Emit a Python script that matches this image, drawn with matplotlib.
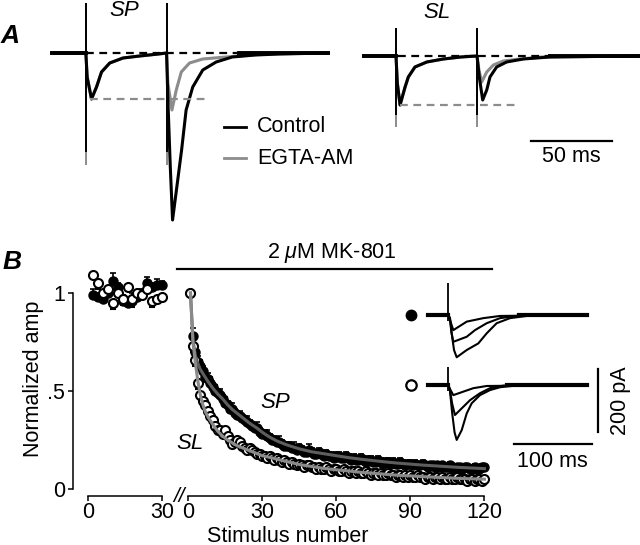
import numpy as np
import matplotlib.pyplot as plt

plt.rcParams['font.family'] = ['Liberation Sans', 'DejaVu Sans']
plt.rcParams['mathtext.fontset'] = 'custom'
plt.rcParams['mathtext.rm'] = 'Liberation Sans'
plt.rcParams['mathtext.it'] = 'Liberation Sans:italic'

FS = 15.5
GRAY = '#8c8c8c'

# ---------- panel A traces (t in ms from first stimulus, amplitude in arbitrary units) ----------
sp_ctrl_t = [-21, 0, 0.8, 3.5, 6.6, 9.7, 14.8, 23, 33.3, 45, 50, 50.8, 52.3, 53.7, 59.3, 62.1, 66.2, 72.4, 80.7, 90.7, 105, 120, 150]
sp_ctrl_a = [0, 0, -24, -46, -34, -19, -10, -5, -3, -1, 0, -47, -114, -167, -97, -57, -34, -17, -9, -4, -2, -1, 0]
sp_egta_t = [-21, 0, 0.8, 3.5, 6.6, 9.7, 14.8, 23, 33.3, 45, 50, 50.8, 53.3, 56, 59.1, 64.2, 72.4, 86.8, 110, 150]
sp_egta_a = [0, 0, -24, -46, -34, -19, -10, -5, -3, -1, 0, -30, -57, -37, -19, -10, -6, -4, -1, 0]

sl_ctrl_t = [-20, 0, 0.8, 2.5, 5.6, 7.6, 11.7, 19, 29.2, 40, 50, 51.4, 53.5, 56, 58, 62.1, 68.3, 78.6, 95, 150]
sl_ctrl_a = [0, 0, -27, -49, -31, -21, -11, -6, -3, -1, 0, -21, -44, -34, -21, -11, -6, -3, -1, 0]
sl_egta_t = [-20, 0, 0.8, 2.5, 5.6, 7.6, 11.7, 19, 29.2, 40, 50, 51.2, 52.9, 56, 60.1, 66.2, 76.5, 90, 150]
sl_egta_a = [0, 0, -27, -49, -31, -21, -11, -6, -3, -1, 0, -14, -26, -16, -9, -5, -3, -1, 0]

stim_times = [0, 50]

# ---------- panel B data ----------
pre_x = [2, 4, 6, 8, 10, 12, 14, 16, 18, 20, 22, 24, 26, 28, 30]
pre_sp = [0.99, 0.98, 0.97, 1.00, 1.06, 1.03, 0.96, 0.95, 0.96, 0.98, 1.00, 1.05, 1.03, 1.04, 1.04]
pre_sp_err = [0.03, 0.02, 0.03, 0.02, 0.04, 0.02, 0.03, 0.02, 0.04, 0.02, 0.02, 0.03, 0.02, 0.03, 0.02]
pre_sl = [1.09, 1.05, 1.00, 1.02, 0.95, 1.00, 0.97, 1.03, 0.97, 1.00, 0.99, 1.02, 0.96, 0.97, 0.98]
pre_sl_err = [0.02, 0.03, 0.02, 0.02, 0.03, 0.02, 0.03, 0.02, 0.04, 0.02, 0.02, 0.02, 0.03, 0.02, 0.02]

post_x = list(range(1, 121))
sp_post = [1.00, 0.78, 0.70, 0.65, 0.63, 0.60, 0.57, 0.56, 0.54, 0.52,
           0.50, 0.49, 0.48, 0.46, 0.44, 0.43, 0.41, 0.41, 0.39, 0.38,
           0.37, 0.36, 0.35, 0.34, 0.33, 0.32, 0.31, 0.31, 0.29, 0.28,
           0.28, 0.27, 0.26, 0.25, 0.25, 0.24, 0.24, 0.23, 0.22, 0.22,
           0.22, 0.21, 0.21, 0.20, 0.21, 0.20, 0.19, 0.19, 0.20, 0.19,
           0.18, 0.18, 0.19, 0.18, 0.17, 0.18, 0.17, 0.17, 0.16, 0.17,
           0.17, 0.16, 0.16, 0.17, 0.16, 0.15, 0.16, 0.15, 0.15, 0.16,
           0.15, 0.14, 0.15, 0.15, 0.14, 0.14, 0.15, 0.14, 0.13, 0.14,
           0.14, 0.13, 0.14, 0.13, 0.13, 0.14, 0.13, 0.12, 0.13, 0.13,
           0.12, 0.13, 0.12, 0.12, 0.13, 0.12, 0.11, 0.12, 0.12, 0.11,
           0.12, 0.11, 0.12, 0.11, 0.11, 0.12, 0.11, 0.10, 0.11, 0.11,
           0.10, 0.11, 0.11, 0.10, 0.10, 0.11, 0.10, 0.10, 0.11, 0.11]
sp_post_err = [0.00, 0.04, 0.03, 0.03, 0.03, 0.03, 0.02, 0.03, 0.03, 0.02,
               0.03, 0.02, 0.03, 0.02, 0.03, 0.02, 0.02, 0.03, 0.02, 0.02,
               0.03, 0.02, 0.02, 0.03, 0.02, 0.02, 0.02, 0.03, 0.02, 0.02,
               0.02, 0.03, 0.02, 0.02, 0.02, 0.02, 0.03, 0.02, 0.02, 0.02,
               0.02, 0.02, 0.03, 0.02, 0.02, 0.02, 0.02, 0.02, 0.03, 0.02,
               0.02, 0.02, 0.02, 0.02, 0.02, 0.02, 0.02, 0.02, 0.02, 0.02,
               0.02, 0.02, 0.02, 0.02, 0.02, 0.02, 0.02, 0.02, 0.02, 0.02,
               0.02, 0.02, 0.02, 0.02, 0.02, 0.02, 0.02, 0.02, 0.02, 0.02,
               0.02, 0.02, 0.02, 0.02, 0.02, 0.02, 0.02, 0.02, 0.02, 0.02,
               0.02, 0.02, 0.02, 0.02, 0.02, 0.02, 0.02, 0.02, 0.02, 0.02,
               0.02, 0.02, 0.02, 0.02, 0.02, 0.02, 0.02, 0.02, 0.02, 0.02,
               0.02, 0.02, 0.02, 0.02, 0.02, 0.02, 0.02, 0.02, 0.02, 0.02]
sl_post = [1.00, 0.73, 0.66, 0.54, 0.48, 0.45, 0.43, 0.40, 0.37, 0.35,
           0.32, 0.30, 0.30, 0.28, 0.30, 0.27, 0.25, 0.23, 0.24, 0.25,
           0.24, 0.22, 0.21, 0.20, 0.21, 0.20, 0.19, 0.18, 0.18, 0.17,
           0.17, 0.16, 0.17, 0.16, 0.15, 0.16, 0.15, 0.14, 0.15, 0.14,
           0.13, 0.14, 0.13, 0.12, 0.13, 0.12, 0.11, 0.12, 0.12, 0.11,
           0.11, 0.10, 0.11, 0.10, 0.10, 0.11, 0.10, 0.09, 0.10, 0.10,
           0.09, 0.09, 0.10, 0.09, 0.08, 0.09, 0.09, 0.08, 0.09, 0.08,
           0.08, 0.09, 0.08, 0.07, 0.08, 0.08, 0.07, 0.08, 0.07, 0.07,
           0.08, 0.07, 0.07, 0.06, 0.07, 0.07, 0.06, 0.07, 0.06, 0.07,
           0.06, 0.06, 0.07, 0.06, 0.06, 0.05, 0.06, 0.06, 0.05, 0.06,
           0.06, 0.05, 0.06, 0.05, 0.05, 0.06, 0.05, 0.05, 0.06, 0.05,
           0.05, 0.05, 0.04, 0.05, 0.05, 0.04, 0.05, 0.05, 0.04, 0.05]
sl_post_err = [0.00, 0.03, 0.03, 0.03, 0.02, 0.02, 0.02, 0.02, 0.02, 0.02,
               0.02, 0.02, 0.02, 0.02, 0.02, 0.02, 0.02, 0.02, 0.02, 0.02,
               0.02, 0.02, 0.02, 0.02, 0.02, 0.02, 0.02, 0.02, 0.02, 0.02,
               0.02, 0.02, 0.02, 0.02, 0.02, 0.02, 0.02, 0.02, 0.02, 0.02,
               0.01, 0.01, 0.01, 0.01, 0.01, 0.01, 0.01, 0.01, 0.01, 0.01,
               0.01, 0.01, 0.01, 0.01, 0.01, 0.01, 0.01, 0.01, 0.01, 0.01,
               0.01, 0.01, 0.01, 0.01, 0.01, 0.01, 0.01, 0.01, 0.01, 0.01,
               0.01, 0.01, 0.01, 0.01, 0.01, 0.01, 0.01, 0.01, 0.01, 0.01,
               0.01, 0.01, 0.01, 0.01, 0.01, 0.01, 0.01, 0.01, 0.01, 0.01,
               0.01, 0.01, 0.01, 0.01, 0.01, 0.01, 0.01, 0.01, 0.01, 0.01,
               0.01, 0.01, 0.01, 0.01, 0.01, 0.01, 0.01, 0.01, 0.01, 0.01,
               0.01, 0.01, 0.01, 0.01, 0.01, 0.01, 0.01, 0.01, 0.01, 0.01]

# fitted curves
fit_x = [1, 2, 3, 4, 5, 6, 7, 8, 10, 12, 14, 16, 18, 20, 22, 25, 28, 30, 33, 36, 40, 45, 50,
         55, 60, 65, 70, 75, 80, 85, 90, 95, 100, 105, 110, 115, 120]
sp_fit = [1.0, 0.76, 0.68, 0.64, 0.61, 0.59, 0.57, 0.55, 0.515, 0.485, 0.46, 0.43, 0.405, 0.385,
          0.365, 0.335, 0.31, 0.29, 0.265, 0.245, 0.225, 0.205, 0.19, 0.18, 0.17, 0.16, 0.152,
          0.145, 0.138, 0.132, 0.127, 0.122, 0.118, 0.114, 0.110, 0.107, 0.104]
sl_fit = [1.0, 0.75, 0.64, 0.55, 0.48, 0.43, 0.395, 0.37, 0.33, 0.295, 0.27, 0.25, 0.235, 0.22,
          0.21, 0.195, 0.18, 0.17, 0.162, 0.152, 0.14, 0.125, 0.115, 0.105, 0.098, 0.092, 0.085,
          0.08, 0.075, 0.07, 0.067, 0.063, 0.06, 0.057, 0.054, 0.052, 0.05]

# ---------- inset traces (ms, pA) ----------
sp_in_t = [[-26, 0, 2.2, 4.3, 7.3, 10.7, 23.5, 38.3, 49, 61.7, 78.7, 100, 177],
           [-26, 0, 2, 4, 6.4, 23.5, 34, 49, 66, 90, 177],
           [-26, 0, 2, 6.4, 23.5, 44.6, 66, 177]]
sp_in_a = [[0, 0, -10, -58, -111, -134, -111, -90, -58, -26, -10, -3, 0],
           [0, 0, -10, -55, -85, -69, -48, -26, -10, -2, 0],
           [0, 0, -15, -48, -21, -10, -3, 0]]
sl_in_t = [[-26, 0, 2, 5, 8, 10.7, 17.1, 23.5, 29.8, 40.4, 53.2, 66, 85, 177],
           [-26, 0, 2, 5, 8.5, 17.1, 27.7, 40.4, 53.2, 70, 177],
           [-26, 0, 2, 6.4, 19.1, 31.9, 49, 177]]
sl_in_a = [[0, 0, -15, -90, -150, -174, -143, -90, -58, -32, -16, -7, -2, 0],
           [0, 0, -15, -60, -95, -74, -48, -26, -10, -2, 0],
           [0, 0, -12, -32, -21, -10, -3, 0]]
sl_in_base = -222


def px_box(x0, y0, x1, y1):
    return [x0 / 640, 1 - y1 / 545, (x1 - x0) / 640, (y1 - y0) / 545]


fig = plt.figure(figsize=(6.4, 5.45), dpi=100)

# ================= panel A =================
axA1 = fig.add_axes(px_box(40, 0, 345, 235))
axA1.set_xlim(-28.4, 160.5)
axA1.set_ylim(-182, 53)
axA1.axis('off')

axA1.plot(sp_egta_t, sp_egta_a, color=GRAY, lw=2.2)
axA1.plot(sp_ctrl_t, sp_ctrl_a, color='black', lw=2.2)
axA1.plot([-21, 0], [0, 0], color='black', lw=2.8)
axA1.plot([95, 150], [0, 0], color='black', lw=2.8)
axA1.vlines(stim_times, -112, 50, color=GRAY, lw=1.4)
axA1.vlines(stim_times, -99, 50, color='black', lw=1.4)
axA1.plot([0, 150], [0, 0], color='black', lw=1.6, ls=(0, (3.5, 2.5)))
axA1.plot([2.5, 74], [-46, -46], color=GRAY, lw=1.6, ls=(0, (3.5, 2.5)))
axA1.text(23.5, 42, 'SP', style='italic', fontsize=16, ha='center', va='center')
axA1.plot([85.8, 99.4], [-74, -74], color='black', lw=2)
axA1.plot([85.8, 99.4], [-105, -105], color=GRAY, lw=2)
axA1.text(106.2, -74, 'Control', fontsize=FS, va='center')
axA1.text(106.2, -105, 'EGTA-AM', fontsize=FS, va='center')

axA2 = fig.add_axes(px_box(350, 0, 640, 235))
axA2.set_xlim(-28.4, 150.6)
axA2.set_ylim(-179, 56)
axA2.axis('off')

axA2.plot(sl_egta_t, sl_egta_a, color=GRAY, lw=2.2)
axA2.plot(sl_ctrl_t, sl_ctrl_a, color='black', lw=2.2)
axA2.plot([-20, 0], [0, 0], color='black', lw=2.8)
axA2.plot([95, 150], [0, 0], color='black', lw=2.8)
axA2.vlines(stim_times, -71, 28, color=GRAY, lw=1.4)
axA2.vlines(stim_times, -59, 28, color='black', lw=1.4)
axA2.plot([1, 150], [0, 0], color='black', lw=1.6, ls=(0, (3.5, 2.5)))
axA2.plot([2.5, 74], [-49, -49], color=GRAY, lw=1.6, ls=(0, (3.5, 2.5)))
axA2.text(25.3, 43.5, 'SL', style='italic', fontsize=16, ha='center', va='center')
axA2.plot([83.3, 133.3], [-85, -85], color='black', lw=1.6)
axA2.text(108.3, -101, '50 ms', fontsize=FS, ha='center', va='center')

fig.text(10 / 640, 1 - 36 / 545, 'A', fontsize=19, fontweight='bold', style='italic',
         ha='center', va='center')
fig.text(12 / 640, 1 - 262 / 545, 'B', fontsize=19, fontweight='bold', style='italic',
         ha='center', va='center')

# ================= panel B =================
ylo, yhi = -7 / 196, 1 + 31 / 196

axL = fig.add_axes(px_box(60, 262, 170, 496))
axL.set_xlim(-11.34, 33.2)
axL.set_ylim(ylo, yhi)
axL.patch.set_alpha(0)
for s in ['top', 'right']:
    axL.spines[s].set_visible(False)
axL.spines['left'].set_position(('data', -6.07))
axL.spines['left'].set_bounds(0, 1)
axL.spines['bottom'].set_bounds(0, 30)
for s in ['left', 'bottom']:
    axL.spines[s].set_linewidth(1.1)
axL.set_yticks([0, 0.5, 1])
axL.set_yticklabels(['0', '.5', '1'])
axL.set_xticks([0, 30])
axL.tick_params(width=1.1, length=3.8, labelsize=FS, pad=2)
axL.tick_params(axis='x', pad=0.5)
axL.set_ylabel('Normalized amp', fontsize=FS, labelpad=2)

axL.errorbar(pre_x, pre_sp, yerr=[np.zeros(len(pre_sp)), pre_sp_err], fmt='o', color='black',
             ms=6.5, elinewidth=1.2, capsize=2.5, capthick=1.2, clip_on=False)
axL.errorbar(pre_x, pre_sl, yerr=[pre_sl_err, np.zeros(len(pre_sl))], fmt='o', color='black',
             mfc='white', mec='black', mew=1.5, ms=6.5, elinewidth=1.2, capsize=2.5,
             capthick=1.2, clip_on=False)

axR = fig.add_axes(px_box(176, 262, 520, 496))
axR.set_xlim(-4.86, 134.4)
axR.set_ylim(ylo, yhi)
axR.patch.set_alpha(0)
for s in ['top', 'right', 'left']:
    axR.spines[s].set_visible(False)
axR.spines['bottom'].set_bounds(0, 120)
axR.spines['bottom'].set_linewidth(1.1)
axR.set_yticks([])
axR.set_xticks([0, 30, 60, 90, 120])
axR.tick_params(width=1.1, length=3.8, labelsize=FS, pad=0.5)

axR.errorbar(post_x, sp_post, yerr=[np.zeros(len(sp_post)), sp_post_err], fmt='o',
             color='black', ms=6.5, elinewidth=1.2, capsize=2.5, capthick=1.2)
axR.errorbar(post_x, sl_post, yerr=[sl_post_err, np.zeros(len(sl_post))], fmt='o',
             color='black', mfc='white', mec='black', mew=1.5, ms=6.5, elinewidth=1.2,
             capsize=2.5, capthick=1.2)
axR.plot(fit_x, sp_fit, color='#5e5e5e', lw=2.2, zorder=6)
axR.plot(fit_x, sl_fit, color='#8a8a8a', lw=2.2, zorder=6)

axR.plot([-4.45, 123.1], [1.122, 1.122], color='black', lw=1.6, clip_on=False)
axR.text(58.3, 1.204, r'2 $\mu$M MK-801', fontsize=FS, ha='center', va='center')
axR.text(35.5, 0.44, 'SP', style='italic', fontsize=16, ha='center', va='center')
axR.text(0.8, 0.23, 'SL', style='italic', fontsize=16, ha='center', va='center')

fig.text(288 / 640, 1 - 536 / 545, 'Stimulus number', fontsize=FS, ha='center', va='center')

# axis break mark
fig.text(179 / 640, 1 - 497 / 545, '//', fontsize=15, style='italic', ha='center', va='center')

# ================= inset traces =================
axI = fig.add_axes(px_box(400, 275, 640, 475))
axI.set_xlim(-61.6, 244.5)
axI.set_ylim(-507.2, 126.8)
axI.axis('off')
axI.patch.set_alpha(0)

for t, a in zip(sp_in_t, sp_in_a):
    axI.plot(t, a, color='black', lw=1.5)
for t, a in zip(sl_in_t, sl_in_a):
    axI.plot(t, np.array(a) + sl_in_base, color='black', lw=1.5)
axI.plot([-26, 0], [0, 0], color='black', lw=3)
axI.plot([90, 177], [0, 0], color='black', lw=3)
axI.plot([-26, 0], [sl_in_base, sl_in_base], color='black', lw=3)
axI.plot([75, 177], [sl_in_base, sl_in_base], color='black', lw=3)
axI.vlines([0], -20, 101, color='black', lw=1.3)
axI.vlines([0], sl_in_base - 20, sl_in_base + 56, color='black', lw=1.3)
axI.plot([-47.6], [0], 'o', color='black', ms=7.5)
axI.plot([-47.6], [sl_in_base], 'o', mfc='white', mec='black', mew=1.6, ms=7.5)

axI.plot([191, 191], [-171, -371], color='black', lw=1.6)
axI.text(219, -271, '200 pA', fontsize=FS, rotation=90, ha='center', va='center')
axI.plot([83.3, 183.3], [-409, -409], color='black', lw=1.6)
axI.text(133.3, -463, '100 ms', fontsize=FS, ha='center', va='center')

fig.savefig('out.png', dpi=100)
